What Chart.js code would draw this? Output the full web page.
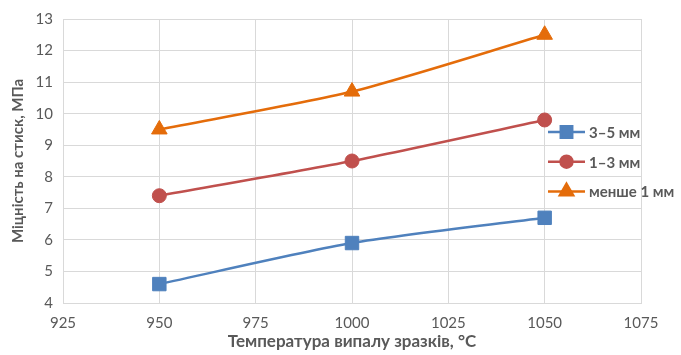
<!DOCTYPE html>
<html lang="uk">
<head>
<meta charset="UTF-8">
<script src="https://cdn.jsdelivr.net/npm/chart.js"></script>
<title>Міцність на стиск</title>
<style>
  body { margin: 0; background: #fff; }
</style>
</head>
<body>
<canvas id="myChart" width="681" height="355"></canvas>
<script>
// data
const temps = [950, 1000, 1050];
const coarse = [4.6, 5.9, 6.7];    // 3–5 мм
const medium = [7.4, 8.5, 9.8];    // 1–3 мм
const fine = [9.5, 10.7, 12.5];    // менше 1 мм
const seriesNames = ['3–5 мм', '1–3 мм', 'менше 1 мм'];
const xTicks = [925, 950, 975, 1000, 1025, 1050, 1075];
const yTicks = [4, 5, 6, 7, 8, 9, 10, 11, 12, 13];

const grey = '#595959';
const gridColor = '#D9D9D9';
const fontFam = 'Lato, "Open Sans", sans-serif';

function pts(vals) {
    return temps.map((t, i) => ({ x: t, y: vals[i] }));
}

function series(label, vals, color, style, r) {
    return {
        label: label,
        data: pts(vals),
        borderColor: color,
        backgroundColor: color,
        borderWidth: 2.5,
        pointStyle: style,
        pointRadius: r,
        pointHoverRadius: r,
        pointBorderWidth: 1,
        tension: 0.25
    };
}

// legend sits inside the plot, on the right, with no box
const legendInside = {
    id: 'legendInside',
    afterDraw(chart) {
        const ctx = chart.ctx;
        ctx.save();
        chart.data.datasets.forEach((ds, i) => {
            const y = 132 + i * 29.7;
            ctx.strokeStyle = ds.borderColor;
            ctx.lineWidth = ds.borderWidth;
            ctx.beginPath();
            ctx.moveTo(548, y);
            ctx.lineTo(585, y);
            ctx.stroke();
            ctx.fillStyle = ds.backgroundColor;
            Chart.helpers.drawPoint(ctx, {
                pointStyle: ds.pointStyle,
                radius: ds.pointRadius * 0.85,
                rotation: 0,
                borderWidth: 1
            }, 566.5, y);
            ctx.fillStyle = grey;
            ctx.font = 'bold 15px ' + fontFam;
            ctx.textAlign = 'left';
            ctx.textBaseline = 'middle';
            ctx.fillText(ds.label, 589, y + 1);
        });
        ctx.restore();
    }
};

new Chart(document.getElementById('myChart'), {
    type: 'line',
    data: {
        datasets: [
            series(seriesNames[0], coarse, '#4F81BD', 'rect', 9.5),
            series(seriesNames[1], medium, '#C0504D', 'circle', 7),
            series(seriesNames[2], fine, '#E46C0A', 'triangle', 9)
        ]
    },
    options: {
        responsive: false,
        animation: false,
        layout: { padding: { top: 13, right: 40, left: 0, bottom: 0 } },
        plugins: {
            legend: { display: false },
            tooltip: { enabled: false }
        },
        scales: {
            x: {
                type: 'linear',
                min: 925,
                max: 1075,
                afterBuildTicks: s => { s.ticks = xTicks.map(v => ({ value: v })); },
                afterFit: s => { s.height = 52; },
                grid: { color: gridColor, drawTicks: false },
                border: { color: gridColor },
                ticks: {
                    color: grey,
                    padding: 11,
                    font: { family: fontFam, size: 15 },
                    callback: v => String(v)
                },
                title: {
                    display: true,
                    text: 'Температура випалу зразків, °С',
                    color: grey,
                    padding: { top: 0, bottom: 3 },
                    font: { family: fontFam, size: 17, weight: 'bold' }
                }
            },
            y: {
                min: 4,
                max: 13,
                afterBuildTicks: s => { s.ticks = yTicks.map(v => ({ value: v })); },
                afterFit: s => { s.width = 63; },
                grid: { color: gridColor, drawTicks: false },
                border: { color: gridColor },
                ticks: { color: grey, padding: 10, font: { family: fontFam, size: 15 } },
                title: {
                    display: true,
                    text: 'Міцність на стиск, МПа',
                    color: grey,
                    padding: { top: 9, bottom: 0 },
                    font: { family: fontFam, size: 15, weight: 'bold' }
                }
            }
        }
    },
    plugins: [legendInside]
});
</script>
</body>
</html>
